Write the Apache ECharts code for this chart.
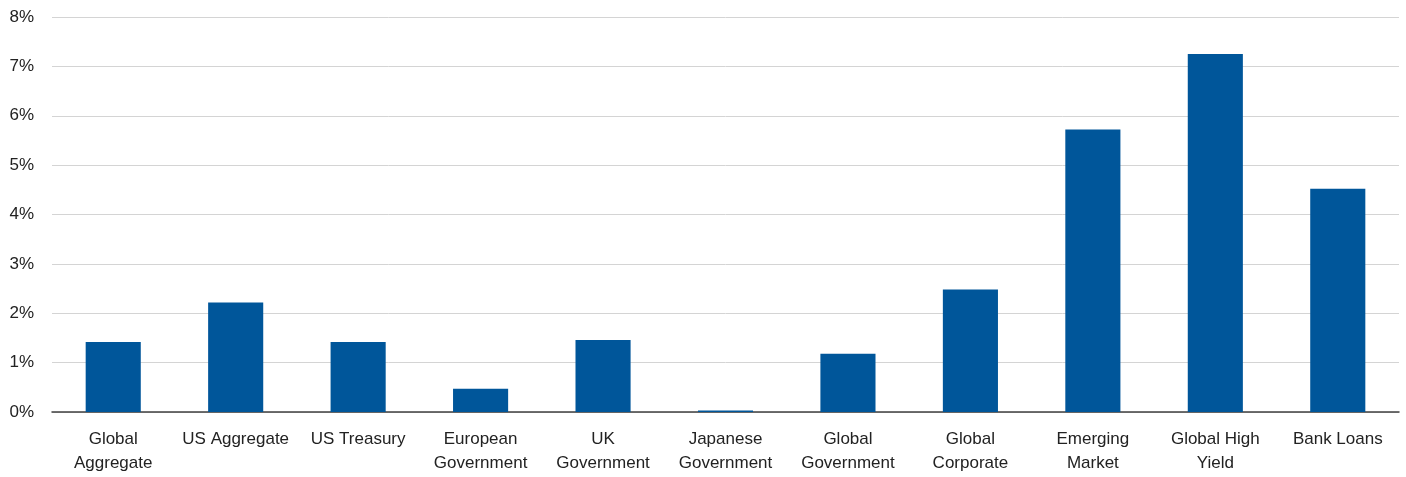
<!DOCTYPE html>
<html>
<head>
<meta charset="utf-8">
<script src="https://cdn.jsdelivr.net/npm/echarts@6/dist/echarts.min.js"></script>
<style>
html,body{margin:0;padding:0;background:#fff;}
#chart{width:1406px;height:477px;}
</style>
</head>
<body>
<div id="chart"></div>
<script>
const categories = ["Global\nAggregate","US Aggregate","US Treasury","European\nGovernment","UK\nGovernment","Japanese\nGovernment","Global\nGovernment","Global\nCorporate","Emerging\nMarket","Global High\nYield","Bank Loans"];
const values = [1.42, 2.22, 1.42, 0.47, 1.46, 0.03, 1.18, 2.48, 5.72, 7.25, 4.52];
const yTicks = [0, 1, 2, 3, 4, 5, 6, 7, 8];

const font = "'Liberation Sans Narrow','Arial Narrow','Liberation Sans',sans-serif";
const chart = echarts.init(document.getElementById('chart'));
chart.setOption({
  animation: false,
  grid: {left: 52, right: 7, top: 17, bottom: 65},
  xAxis: {
    type: 'category',
    data: categories,
    axisTick: {show: false},
    axisLine: {lineStyle: {color: '#404040', width: 1.5}},
    axisLabel: {color: '#222', fontFamily: font, fontSize: 17, lineHeight: 24, margin: 15, interval: 0}
  },
  yAxis: {
    type: 'value',
    min: yTicks[0], max: yTicks[yTicks.length-1], interval: 1,
    axisLine: {show: false},
    axisTick: {show: false},
    splitLine: {lineStyle: {color: '#d4d4d4', width: 1}},
    axisLabel: {color: '#222', fontFamily: font, fontSize: 17, margin: 18, formatter: v => v + '%'}
  },
  series: [{
    type: 'bar',
    data: values,
    barWidth: '45%',
    itemStyle: {color: '#00569A'}
  }]
});
</script>
</body>
</html>
